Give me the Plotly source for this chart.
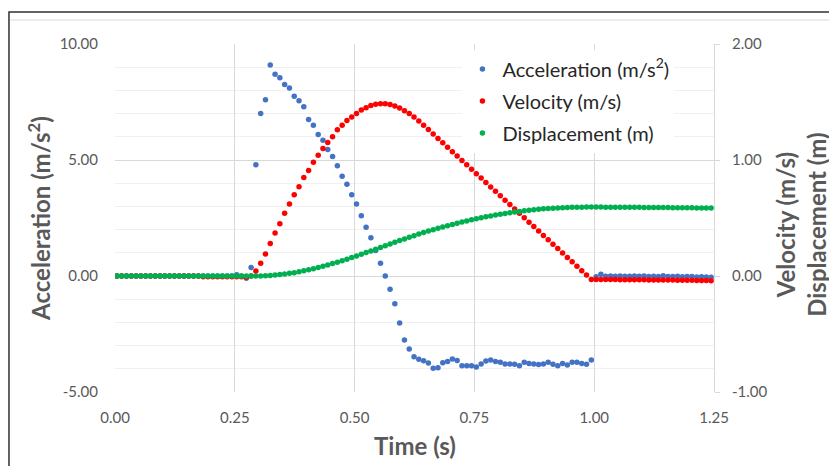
import plotly.graph_objects as go

# time grid (s), 0.01 s sampling
TIME = [round(0.004 + 0.01 * i, 3) for i in range(125)]

ACCEL = [
    0.00, 0.00, 0.00, 0.00, 0.00, 0.00, 0.00, 0.00, 0.00, 0.00,
    0.00, 0.00, 0.00, 0.00, 0.00, 0.00, 0.00, 0.00, 0.00, 0.00,
    0.00, 0.00, 0.00, 0.00, 0.00, 0.05, 0.00, -0.10, 0.37, 4.80,
    7.00, 7.60, 9.10, 8.70, 8.55, 8.25, 8.10, 7.75, 7.55, 7.30,
    6.75, 6.50, 6.10, 5.85, 5.45, 5.15, 4.75, 4.30, 3.95, 3.50,
    3.10, 2.60, 2.10, 1.65, 1.10, 0.55, 0.00, -0.57, -1.20, -2.03,
    -2.76, -3.15, -3.48, -3.59, -3.65, -3.75, -3.98, -3.95, -3.74, -3.68,
    -3.58, -3.64, -3.87, -3.87, -3.87, -3.92, -3.79, -3.66, -3.62, -3.69,
    -3.72, -3.79, -3.79, -3.80, -3.87, -3.72, -3.77, -3.79, -3.82, -3.79,
    -3.72, -3.80, -3.87, -3.77, -3.84, -3.72, -3.72, -3.77, -3.80, -3.62,
    -0.03, 0.08, -0.01, 0.00, -0.01, 0.00, -0.01, -0.01, 0.00, -0.01,
    0.00, -0.02, -0.01, -0.02, 0.01, -0.02, -0.02, -0.01, -0.03, -0.02,
    -0.02, -0.04, -0.03, -0.04, -0.05,
]

VELOCITY = [
    0.000, 0.000, 0.000, 0.000, 0.000, 0.000, 0.000, 0.000, 0.000, 0.000,
    0.000, 0.000, 0.000, 0.000, 0.000, 0.000, 0.000, 0.000, -0.006, -0.006,
    -0.006, -0.006, -0.006, -0.006, -0.006, -0.006, -0.006, -0.010, 0.000, 0.043,
    0.110, 0.190, 0.280, 0.370, 0.450, 0.540, 0.620, 0.700, 0.770, 0.850,
    0.910, 0.980, 1.040, 1.100, 1.150, 1.200, 1.260, 1.300, 1.340, 1.370,
    1.400, 1.430, 1.450, 1.470, 1.480, 1.485, 1.484, 1.478, 1.466, 1.448,
    1.425, 1.400, 1.370, 1.336, 1.300, 1.262, 1.224, 1.186, 1.148, 1.110,
    1.072, 1.034, 0.996, 0.958, 0.920, 0.882, 0.844, 0.806, 0.768, 0.730,
    0.692, 0.654, 0.616, 0.578, 0.540, 0.502, 0.464, 0.426, 0.388, 0.350,
    0.312, 0.274, 0.236, 0.198, 0.160, 0.122, 0.084, 0.046, 0.008, -0.030,
    -0.030, -0.030, -0.031, -0.031, -0.031, -0.032, -0.032, -0.032, -0.033, -0.033,
    -0.033, -0.034, -0.034, -0.034, -0.035, -0.035, -0.035, -0.036, -0.036, -0.037,
    -0.037, -0.038, -0.038, -0.039, -0.040,
]

DISPLACEMENT = [
    0.000, 0.000, 0.000, 0.000, 0.000, 0.000, 0.000, 0.000, 0.000, 0.000,
    0.000, 0.000, 0.000, 0.000, 0.000, 0.000, 0.000, 0.000, 0.000, 0.000,
    0.000, 0.000, 0.000, 0.000, 0.000, 0.000, 0.000, 0.000, 0.000, 0.000,
    0.001, 0.003, 0.005, 0.008, 0.012, 0.017, 0.023, 0.029, 0.037, 0.045,
    0.054, 0.063, 0.073, 0.084, 0.095, 0.107, 0.119, 0.132, 0.145, 0.159,
    0.173, 0.187, 0.202, 0.216, 0.231, 0.246, 0.261, 0.276, 0.290, 0.305,
    0.319, 0.333, 0.347, 0.361, 0.374, 0.387, 0.399, 0.411, 0.423, 0.434,
    0.445, 0.455, 0.465, 0.475, 0.484, 0.493, 0.502, 0.510, 0.518, 0.525,
    0.532, 0.539, 0.545, 0.551, 0.557, 0.562, 0.567, 0.571, 0.575, 0.579,
    0.582, 0.585, 0.587, 0.589, 0.591, 0.592, 0.593, 0.593, 0.594, 0.594,
    0.594, 0.594, 0.593, 0.593, 0.593, 0.593, 0.592, 0.592, 0.592, 0.592,
    0.591, 0.591, 0.591, 0.590, 0.590, 0.590, 0.589, 0.589, 0.589, 0.588,
    0.588, 0.587, 0.587, 0.587, 0.586,
]

X_TICKS = [0.0, 0.25, 0.5, 0.75, 1.0, 1.25]
X_TICKTEXT = ["0.00", "0.25", "0.50", "0.75", "1.00", "1.25"]
Y1_TICKS = [-5, 0, 5, 10]
Y1_TICKTEXT = ["-5.00", "0.00", "5.00", "10.00"]
Y2_TICKS = [-1, 0, 1, 2]
Y2_TICKTEXT = ["-1.00", "0.00", "1.00", "2.00"]

FONT = "Lato, Carlito, Calibri, sans-serif"
GRAY = "#595959"

fig = go.Figure()
fig.add_trace(go.Scatter(x=TIME, y=ACCEL, mode="markers", name="Acceleration (m/s<sup>2</sup>)",
                         marker=dict(color="#4472C4", size=5.5), yaxis="y", legendgroup="a"))
fig.add_trace(go.Scatter(x=TIME, y=VELOCITY, mode="markers", name="Velocity (m/s)",
                         marker=dict(color="#FF0000", size=5.5), yaxis="y2", legendgroup="v"))
fig.add_trace(go.Scatter(x=TIME, y=DISPLACEMENT, mode="markers", name="Displacement (m)",
                         marker=dict(color="#00B050", size=5.5), yaxis="y2", legendgroup="d"))

fig.update_layout(
    width=837, height=466,
    margin=dict(l=107, r=131, t=36, b=82, autoexpand=False),
    paper_bgcolor="white", plot_bgcolor="white",
    font=dict(family=FONT, color=GRAY),
    showlegend=True,
    legend=dict(x=0.58, y=0.984, xanchor="left", yanchor="top",
                bgcolor="white", font=dict(size=20, color="#262626", family=FONT),
                tracegroupgap=3, itemwidth=30),
    xaxis=dict(range=[0, 1.25], tickvals=X_TICKS, ticktext=X_TICKTEXT,
               showgrid=True, gridcolor="#d9d9d9", gridwidth=1,
               zeroline=False, showline=False, ticks="",
               tickfont=dict(size=15, color=GRAY, family=FONT),
               ticklabelstandoff=15, automargin=False),
    yaxis=dict(range=[-5, 10], tickvals=Y1_TICKS, ticktext=Y1_TICKTEXT,
               showgrid=True, gridcolor="#d9d9d9", gridwidth=1,
               minor=dict(dtick=1, tick0=0, showgrid=True, gridcolor="#f0f0f0", gridwidth=1),
               zeroline=False, showline=False, ticks="",
               tickfont=dict(size=15, color=GRAY, family=FONT),
               ticklabelstandoff=16, automargin=False),
    yaxis2=dict(range=[-1, 2], tickvals=Y2_TICKS, ticktext=Y2_TICKTEXT,
                overlaying="y", side="right", showgrid=False, zeroline=False,
                showline=True, linecolor="#d9d9d9", linewidth=1,
                ticks="outside", ticklen=5, tickcolor="#d9d9d9",
                tickfont=dict(size=15, color=GRAY, family=FONT),
                ticklabelstandoff=9, automargin=False),
    annotations=[
        dict(text="<b>Acceleration (m/s<sup>2</sup>)</b>", xref="paper", yref="paper",
             x=-0.127, y=0.5, xanchor="center", yanchor="middle", textangle=-90,
             showarrow=False, font=dict(size=24, color=GRAY, family=FONT)),
        dict(text="<b>Velocity (m/s)<br>Displacement (m)</b>", xref="paper", yref="paper",
             x=1.145, y=0.48, xanchor="center", yanchor="middle", textangle=-90,
             showarrow=False, font=dict(size=24, color=GRAY, family=FONT)),
        dict(text="<b>Time (s)</b>", xref="paper", yref="paper",
             x=0.5, y=-0.155, xanchor="center", yanchor="middle",
             showarrow=False, font=dict(size=24, color=GRAY, family=FONT)),
    ],
    shapes=[
        dict(type="rect", xref="paper", yref="paper", x0=-0.177, x1=2.0, y0=-1.0, y1=1.092,
             line=dict(color="#303030", width=1.5), fillcolor="rgba(0,0,0,0)", layer="below"),
        dict(type="line", xref="paper", yref="paper", x0=-0.175, x1=2.0, y0=1.069, y1=1.069,
             line=dict(color="#d9d9d9", width=1), layer="below"),
    ],
)

fig.write_html("out.html")
